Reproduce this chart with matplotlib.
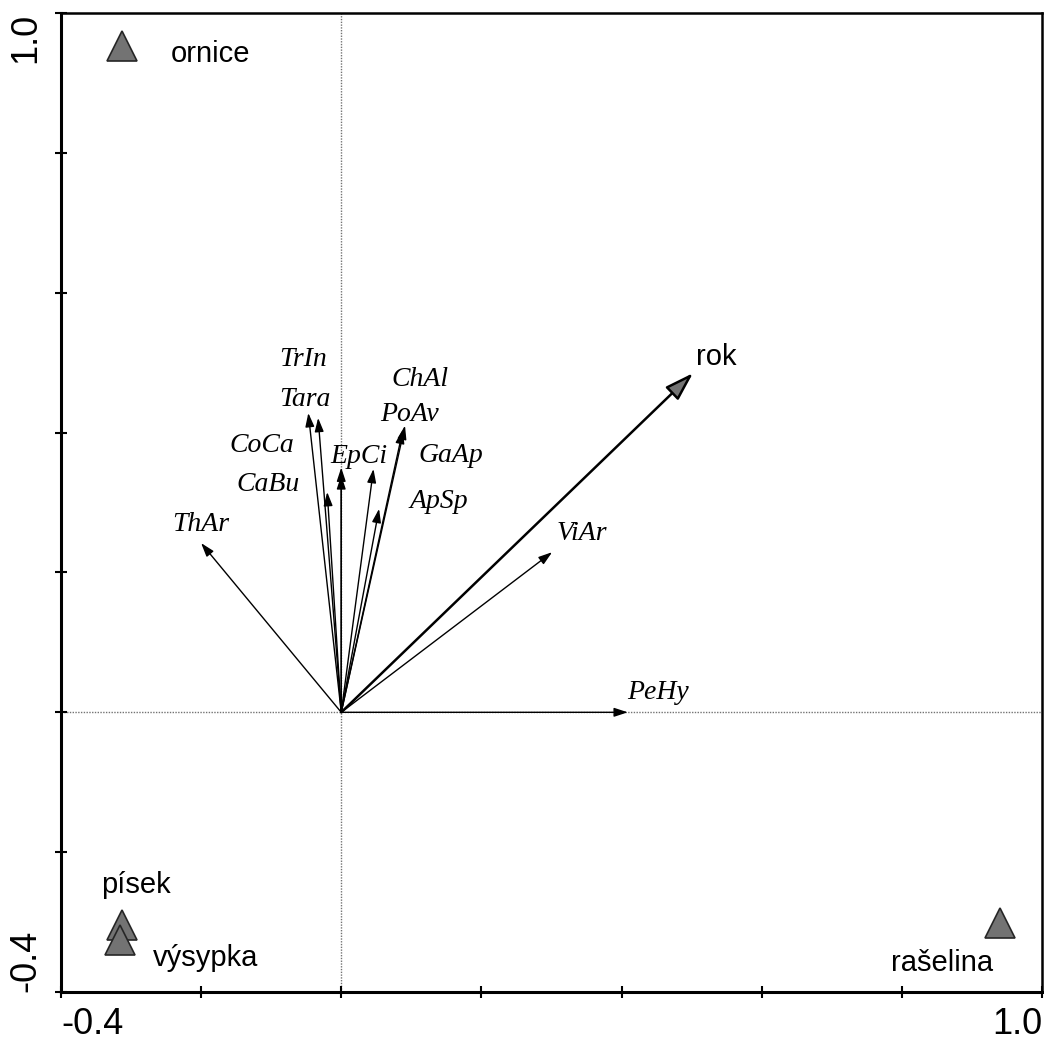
import numpy as np
import matplotlib
matplotlib.use("Agg")
import matplotlib.pyplot as plt

# species arrows (tips) and where their labels sit
species = ["TrIn", "Tara", "CoCa", "CaBu", "ThAr", "EpCi",
           "ChAl", "PoAv", "GaAp", "ApSp", "ViAr", "PeHy"]
sp_x = [-0.033, -0.047, 0.0, -0.020, -0.200, 0.0,
        0.091, 0.088, 0.046, 0.054, 0.301, 0.409]
sp_y = [0.421, 0.428, 0.350, 0.315, 0.242, 0.339,
        0.410, 0.404, 0.348, 0.291, 0.229, 0.0]
sp_lab_x = [-0.055, -0.052, -0.114, -0.105, -0.200, 0.025,
            0.112, 0.097, 0.157, 0.139, 0.343, 0.452]
sp_lab_y = [0.505, 0.448, 0.381, 0.326, 0.268, 0.366,
            0.476, 0.426, 0.367, 0.301, 0.255, 0.029]

# environmental variable
env = "rok"
env_x, env_y = 0.502, 0.485
env_lab_x, env_lab_y = 0.535, 0.508

# nominal variables (triangles)
samples = ["ornice", "písek", "výsypka", "rašelina"]
smp_x = [-0.313, -0.313, -0.316, 0.940]
smp_y = [0.953, -0.304, -0.326, -0.301]
smp_lab_x = [-0.186, -0.293, -0.193, 0.857]
smp_lab_y = [0.941, -0.247, -0.352, -0.359]

ticks = np.arange(-0.4, 1.01, 0.2)


def main():
    fig = plt.figure(figsize=(10.44, 10.44), dpi=100)
    ax = fig.add_axes([0.0584, 0.0498, 0.9396, 0.9377])
    ax.set_xlim(-0.4, 1.0)
    ax.set_ylim(-0.4, 1.0)

    ax.axhline(0, color="0.45", lw=1.0, ls=(0, (1, 1)), zorder=1)
    ax.axvline(0, color="0.45", lw=1.0, ls=(0, (1, 1)), zorder=1)

    for x, y in zip(sp_x, sp_y):
        ax.annotate("", xy=(x, y), xytext=(0, 0),
                    arrowprops=dict(arrowstyle="-|>,head_length=0.55,head_width=0.18",
                                    mutation_scale=15, color="black", lw=1.0,
                                    shrinkA=0, shrinkB=0), zorder=3)
    for name, lx, ly in zip(species, sp_lab_x, sp_lab_y):
        ax.text(lx, ly, name, ha="center", va="center", fontsize=20,
                family="Liberation Serif", style="italic")

    ax.annotate("", xy=(env_x, env_y), xytext=(0, 0),
                arrowprops=dict(arrowstyle="-|>,head_length=1.1,head_width=0.35",
                                mutation_scale=16, fc="0.45", ec="black", lw=1.8,
                                shrinkA=0, shrinkB=0), zorder=4)
    ax.text(env_lab_x, env_lab_y, env, ha="center", va="center", fontsize=21,
            family="Liberation Sans")

    ax.plot(smp_x, smp_y, ls="none", marker="^", ms=21, mfc="0.45",
            mec="0.15", mew=1.2, zorder=5)
    for name, lx, ly in zip(samples, smp_lab_x, smp_lab_y):
        ax.text(lx, ly, name, ha="center", va="center", fontsize=21,
                family="Liberation Sans")

    ax.set_xticks(ticks)
    ax.set_yticks(ticks)
    labels = ["-0.4", "", "", "", "", "", "", "1.0"]
    ax.set_xticklabels(labels, fontsize=26, family="Liberation Sans")
    ax.set_yticklabels(labels, fontsize=26, family="Liberation Sans",
                       rotation=90)
    xl = ax.get_xticklabels()
    xl[0].set_ha("left")
    xl[-1].set_ha("right")
    yl = ax.get_yticklabels()
    yl[0].set_va("bottom")
    yl[-1].set_va("top")
    ax.tick_params(direction="inout", length=9, width=1.5)
    ax.tick_params(axis="x", pad=6)
    ax.tick_params(axis="y", pad=8)

    for side in ["left", "bottom"]:
        ax.spines[side].set_linewidth(2.2)
    for side in ["top", "right"]:
        ax.spines[side].set_linewidth(1.8)

    fig.savefig("out.png", dpi=100)


if __name__ == "__main__":
    main()
